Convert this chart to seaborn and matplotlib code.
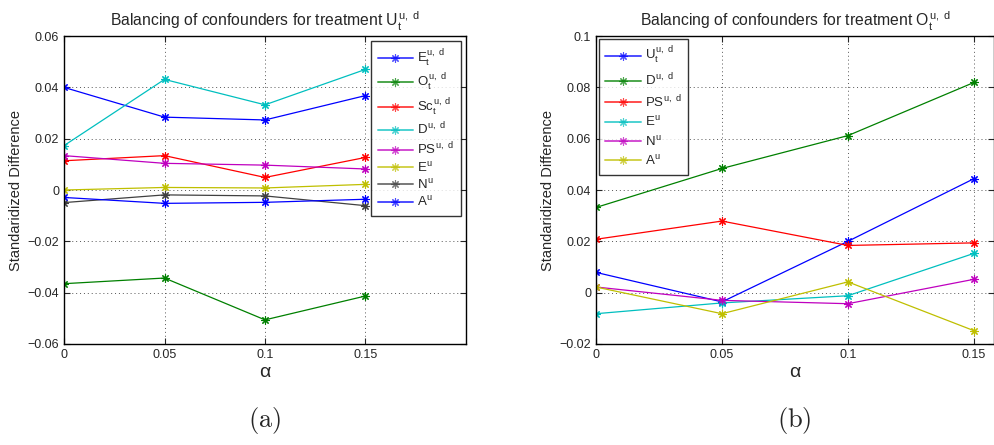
import matplotlib
matplotlib.use("Agg")
import matplotlib.pyplot as plt
import seaborn as sns

# x values
alpha = [0, 0.05, 0.1, 0.15]

# (a) treatment U_t
a_labels = [r"$E_t^{u,\ d}$", r"$O_t^{u,\ d}$", r"$Sc_t^{u,\ d}$", r"$D^{u,\ d}$",
            r"$PS^{u,\ d}$", r"$E^u$", r"$N^u$", r"$A^u$"]
a_E_t = [0.0400, 0.0284, 0.0273, 0.0368]
a_O_t = [-0.0365, -0.0343, -0.0506, -0.0413]
a_Sc_t = [0.0114, 0.0134, 0.0049, 0.0127]
a_D = [0.0173, 0.0431, 0.0332, 0.0470]
a_PS = [0.0134, 0.0104, 0.0097, 0.0082]
a_E = [0.0000, 0.0010, 0.0008, 0.0022]
a_N = [-0.0049, -0.0019, -0.0023, -0.0061]
a_A = [-0.0029, -0.0052, -0.0048, -0.0036]

# (b) treatment O_t
b_labels = [r"$U_t^{u,\ d}$", r"$D^{u,\ d}$", r"$PS^{u,\ d}$", r"$E^u$", r"$N^u$", r"$A^u$"]
b_U_t = [0.0079, -0.0036, 0.0200, 0.0444]
b_D = [0.0332, 0.0484, 0.0612, 0.0819]
b_PS = [0.0208, 0.0279, 0.0184, 0.0194]
b_E = [-0.0082, -0.0040, -0.0012, 0.0153]
b_N = [0.0022, -0.0030, -0.0043, 0.0052]
b_A = [0.0022, -0.0082, 0.0042, -0.0148]

# matlab-ish colours
B, G, R, C, M, Y, K = "#0000ff", "#008000", "#ff0000", "#00bfbf", "#bf00bf", "#bfbf00", "#404040"

sns.set_style("ticks")
plt.rcParams["font.family"] = ["Liberation Sans", "DejaVu Sans"]
plt.rcParams["mathtext.fontset"] = "custom"
plt.rcParams["mathtext.rm"] = "Liberation Sans"
plt.rcParams["mathtext.it"] = "Liberation Sans"
plt.rcParams["mathtext.bf"] = "Liberation Sans:bold"

fig = plt.figure(figsize=(9.94, 4.45), dpi=100)
ax1 = fig.add_axes([0.0644, 0.227, 0.4044, 0.692])
ax2 = fig.add_axes([0.5996, 0.227, 0.4004, 0.692])

STAR = (8, 2, 0)


def draw(ax, series, labels, colors):
    for vals, lab, col in zip(series, labels, colors):
        sns.lineplot(x=alpha, y=vals, ax=ax, color=col, marker=STAR, markersize=6,
                     markeredgecolor=col, markeredgewidth=0.8, linewidth=0.9, label=lab)


def style(ax, title, ylim, yticks, yticklabels, xlim):
    ax.set_xlim(*xlim)
    ax.set_ylim(*ylim)
    ax.set_xticks(alpha)
    ax.set_xticklabels(["0", "0.05", "0.1", "0.15"], fontsize=9)
    ax.set_yticks(yticks)
    ax.set_yticklabels(yticklabels, fontsize=9)
    ax.tick_params(direction="in", top=True, right=True, length=4, width=0.8)
    ax.grid(True, linestyle=(0, (1, 3)), color="#555555", linewidth=0.7)
    for s in ax.spines.values():
        s.set_linewidth(1.0)
        s.set_color("black")
    ax.set_title(title, fontsize=11.3, pad=7)
    ax.set_ylabel("Standaridized Difference", fontsize=10.5, labelpad=3)
    ax.set_xlabel("α", fontsize=14, labelpad=2)


def legend(ax, loc, pad, spacing):
    leg = ax.legend(loc=loc, fontsize=9.5, frameon=True, fancybox=False,
                    edgecolor="black", handlelength=2.7, handletextpad=0.3,
                    labelspacing=spacing, borderaxespad=pad, borderpad=0.5)
    leg.get_frame().set_linewidth(1.0)
    for h in leg.get_lines():
        h.set_linewidth(1.4)
        h.set_alpha(0.7)


draw(ax1, [a_E_t, a_O_t, a_Sc_t, a_D, a_PS, a_E, a_N, a_A], a_labels, [B, G, R, C, M, Y, K, B])
style(ax1, r"Balancing of confounders for treatment $U_t^{u,\ d}$", (-0.06, 0.06),
      [-0.06, -0.04, -0.02, 0, 0.02, 0.04, 0.06],
      ["−0.06", "−0.04", "−0.02", "0", "0.02", "0.04", "0.06"], (0, 0.2))
legend(ax1, "upper right", 0.4, 0.25)

draw(ax2, [b_U_t, b_D, b_PS, b_E, b_N, b_A], b_labels, [B, G, R, C, M, Y])
style(ax2, r"Balancing of confounders for treatment $O_t^{u,\ d}$", (-0.02, 0.1),
      [-0.02, 0, 0.02, 0.04, 0.06, 0.08, 0.1],
      ["−0.02", "0", "0.02", "0.04", "0.06", "0.08", "0.1"], (0, 0.158))
legend(ax2, "upper left", 0.2, 0.4)

fig.text(0.2666, 0.04, r"$\mathrm{(a)}$", fontsize=19, ha="center", math_fontfamily="cm")
fig.text(0.7990, 0.04, r"$\mathrm{(b)}$", fontsize=19, ha="center", math_fontfamily="cm")

fig.savefig("out.png", dpi=100)
